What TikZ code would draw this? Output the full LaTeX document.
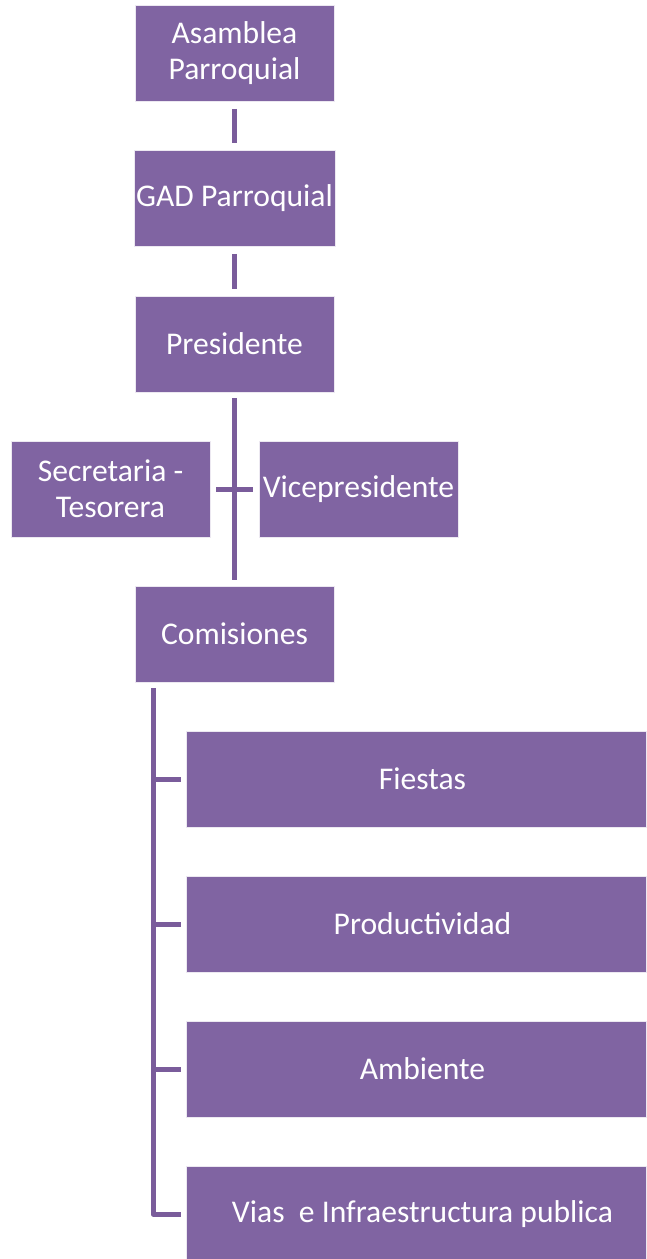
\documentclass[tikz,border=0pt]{standalone}
\usepackage{fontspec}
\setmainfont{Carlito}
\definecolor{boxpurple}{HTML}{8064A2}
\definecolor{linepurple}{HTML}{7A5C9B}
\newcommand{\wtext}[1]{\hspace*{13pt}#1}
\begin{document}
\begin{tikzpicture}[x=1pt,y=-1pt,
  box/.style={rectangle, fill=boxpurple, draw=white!85!boxpurple, line width=0.6pt,
    minimum width=199pt, minimum height=96pt, inner sep=2pt, align=center,
    text=white, font=\fontsize{31.6}{36}\selectfont},
  wide/.style={box, minimum width=460pt},
  conn/.style={draw=linepurple, line width=5pt}]
\useasboundingbox[fill=white] (0,0) rectangle (646,1259);
\node[box] (asam) at (234.5,53.5) {Asamblea\\Parroquial};
\node[box] (gad) at (234.5,198.5) {GAD Parroquial};
\node[box] (pres) at (234.5,344) {Presidente};
\node[box] (sec) at (110.5,489) {Secretaria -\\Tesorera};
\node[box] (vice) at (358.5,489) {Vicepresidente};
\node[box] (com) at (234.5,634) {Comisiones};
\node[wide] (fie) at (416,779) {\wtext{Fiestas}};
\node[wide] (pro) at (416,924) {\wtext{Productividad}};
\node[wide] (amb) at (416,1069) {\wtext{Ambiente}};
\node[wide] (via) at (416,1214) {\wtext{Vias\ \ e Infraestructura publica}};
\draw[conn, shorten <=7pt, shorten >=7pt] (asam.south) -- (gad.north);
\draw[conn, shorten <=7pt, shorten >=7pt] (gad.south) -- (pres.north);
\draw[conn, shorten <=6pt, shorten >=6pt] (pres.south) -- (com.north);
\draw[conn, shorten <=6pt, shorten >=6pt] (sec.east) -- (vice.west);
\coordinate (top) at ([yshift=-6pt]com.south -| 153,0);
\draw[conn, line join=round] (top) |- ([xshift=-5pt]via.west);
\draw[conn] (153,0 |- fie.west) -- ([xshift=-5pt]fie.west);
\draw[conn] (153,0 |- pro.west) -- ([xshift=-5pt]pro.west);
\draw[conn] (153,0 |- amb.west) -- ([xshift=-5pt]amb.west);
\end{tikzpicture}
\end{document}
